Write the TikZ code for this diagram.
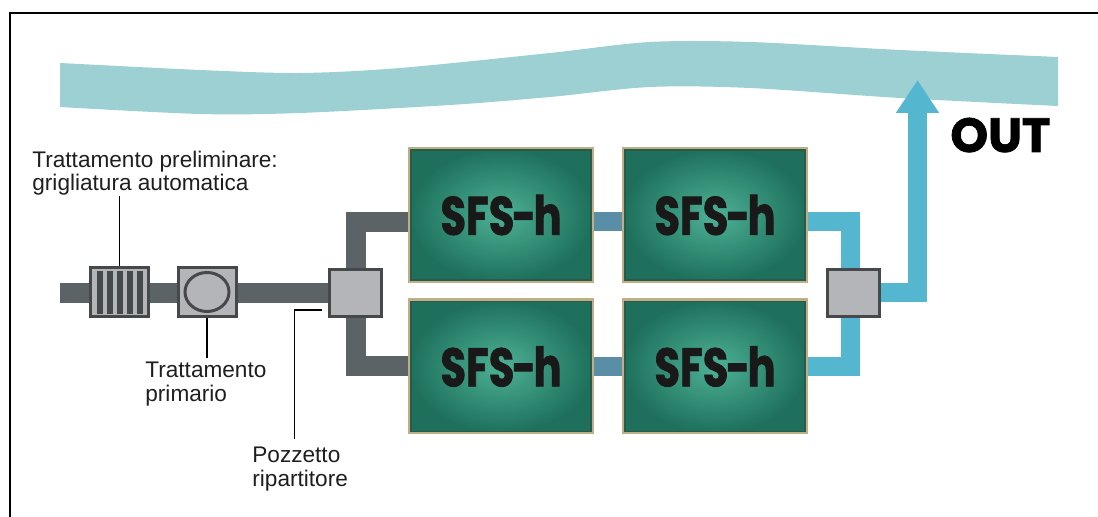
\documentclass[tikz,border=0pt]{standalone}
\usepackage{fontspec}
\setmainfont{Liberation Sans}
\newfontfamily\titlefont{Poppins}
\newfontfamily\sfsfont{Poppins}[BoldFeatures={FakeBold=1.6}]
\usepackage{tikz}
\usepackage{graphicx}
\usetikzlibrary{positioning, calc}
\usetikzlibrary{arrows.meta}
\usetikzlibrary{backgrounds}

\definecolor{fiume}{HTML}{9CD0D3}
\definecolor{tubogrigio}{HTML}{5C6367}
\definecolor{tuboacciaio}{HTML}{5A8EA6}
\definecolor{tuboazzurro}{HTML}{55B6CF}
\definecolor{grigio}{HTML}{B3B5B8}
\definecolor{bordo}{HTML}{46494B}
\definecolor{sfsin}{HTML}{4DB195}
\definecolor{sfsout}{HTML}{1E705C}
\definecolor{sfsbordo}{HTML}{BFAE86}
\definecolor{sfslinea}{HTML}{2A5A48}
\definecolor{testo}{HTML}{1E1E1E}

\newcommand{\sfstext}{\scalebox{0.77}[1]{SFS\kern-0.06em-\kern-0.06em h}}

\begin{document}
\begin{tikzpicture}[x=0.5pt,y=-0.5pt,>=stealth,font=\fontsize{11.3}{11.6}\selectfont,
  box/.style={draw=bordo,fill=grigio,line width=1.5pt,inner sep=0pt},
  sfs/.style={draw=sfsbordo,line width=1.5pt,shading=radial,inner color=sfsin,outer color=sfsout,
    minimum width=91.5pt,minimum height=66.5pt,inner sep=0pt,text=black!90,
    font=\sfsfont\bfseries\fontsize{27}{27}\selectfont},
  tubo/.style={line width=10pt},
  lbl/.style={align=left,inner sep=0pt,text=testo,anchor=north west},
  leader/.style={line width=0.6pt,black}]

\useasboundingbox (0,0) rectangle (1098,517);

% ---- cornice ----
\draw[line width=1.3pt] (1098,13) -- (10,13) -- (10,517);

% ---- trattamenti ----
\node[box,minimum width=29pt,minimum height=24.5pt] (griglia) at (119.5,292) {};
\node[box,minimum width=29pt,minimum height=24.5pt] (primario) at (207,292) {};
\node[box,minimum width=26pt,minimum height=23.5pt] (pozz) at (355.5,293) {};
\node[box,minimum width=26pt,minimum height=23.5pt] (pozz2) at (853.5,293) {};

% barre della griglia
\foreach \i in {0,...,4}
  \fill[bordo] ($(griglia.north west)+(8+10*\i,5)$) rectangle ++(6,43);
\draw[bordo,fill=grigio,line width=1.5pt] (primario.center) ellipse [x radius=22, y radius=19.5];

% ---- vasche SFS-h ----
\node[sfs] (s11) at (501,215) {\sfstext};
\node[sfs] (s12) at (715,215) {\sfstext};
\node[sfs] (s21) at (501,366.5) {\sfstext};
\node[sfs] (s22) at (715,366.5) {\sfstext};
\foreach \n in {s11,s12,s21,s22}
  \draw[sfslinea,line width=0.8pt] ($(\n.south west)+(3,-3)$) rectangle ($(\n.north east)+(-3,3)$);

% ---- uscita ----
\coordinate (in) at (60,293);
\coordinate (tip) at (917.5,80);
\node[anchor=base west,inner sep=0pt,font=\sfsfont\bfseries\fontsize{24}{24}\selectfont] (out) at (950,152) {OUT};

% ---- fiume e tubi (sotto) ----
\begin{scope}[on background layer]
\fill[fiume] plot[smooth] coordinates {(60,63) (200,70) (300,73) (400,68) (550,53) (650,42) (750,42) (900,50) (1058,57)}
  -- plot[smooth] coordinates {(1058,106) (900,98) (750,88) (650,87) (550,97) (450,105) (300,113) (200,114) (60,107)} -- cycle;

\draw[tubo,tubogrigio] (in) -- (pozz.west);
\draw[tubo,tubogrigio] (pozz.north) |- ([yshift=-3.5pt]s11.west);
\draw[tubo,tubogrigio] (pozz.south) |- (s21.west);

\draw[tubo,tuboacciaio,line width=9.5pt] ([yshift=-3.5pt]s11.east) -- ([yshift=-3.5pt]s12.west);
\draw[tubo,tuboacciaio,line width=9.5pt] (s21.east) -- (s22.west);

\draw[tubo,tuboazzurro,line width=9.5pt] ([yshift=-3.5pt]s12.east) -| ([xshift=-1.5pt]pozz2.north);
\draw[tubo,tuboazzurro,line width=9.5pt] (s22.east) -| ([xshift=-1.5pt]pozz2.south);
\draw[tubo,tuboazzurro,line width=9.5pt,-{Triangle[width=20.5pt,length=16.5pt]}] (pozz2.east) -| (tip);
\end{scope}

% ---- etichette ----
\node[lbl] (prelim) at (32,151) {Trattamento preliminare:\\grigliatura automatica};
\node[lbl] (lblprim) at (145,362) {Trattamento\\primario};
\node[lbl] (lblpozz) at (252,447) {Pozzetto\\ripartitore};

\coordinate (pz) at (322,310);
\draw[leader] (griglia.north) -- (griglia.north |- prelim.south);
\draw[leader] (primario.south) -- ([yshift=2pt]primario.south |- lblprim.north);
\draw[leader] (pz) -| ([xshift=-3pt,yshift=4pt]lblpozz.north);

\end{tikzpicture}
\end{document}
